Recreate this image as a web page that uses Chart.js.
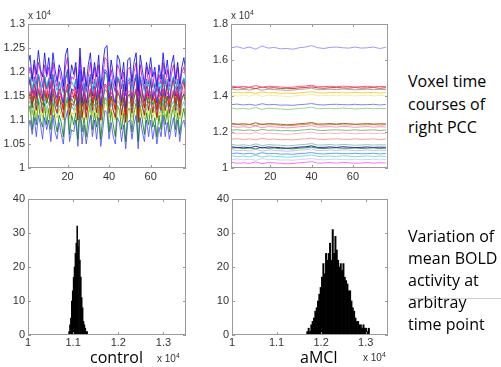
<!DOCTYPE html>
<html>
<head>
<meta charset="utf-8">
<script src="https://cdn.jsdelivr.net/npm/chart.js@4.4.1/dist/chart.umd.min.js"></script>
<style>
body { margin: 0; background: #fff; }
#page { position: relative; width: 501px; height: 367px; overflow: hidden; font-family: "Liberation Sans", Arial, sans-serif; }
canvas { position: absolute; }
.exp { position: absolute; font-size: 10px; line-height: 12px; color: #333; }
.exp span { font-size: 7px; position: relative; top: -4px; }
.note { position: absolute; left: 408px; font-family: "Open Sans", sans-serif; font-size: 16px; color: #000; white-space: nowrap; }
.group { position: absolute; font-family: "Open Sans", sans-serif; font-size: 16px; line-height: 20px; color: #000; }
</style>
</head>
<body>
<div id="page">
  <canvas id="ctlTime" width="200" height="190" style="left:0;top:0"></canvas>
  <canvas id="mciTime" width="200" height="190" style="left:200px;top:0"></canvas>
  <canvas id="ctlHist" width="200" height="180" style="left:0;top:180px"></canvas>
  <canvas id="mciHist" width="200" height="180" style="left:200px;top:180px"></canvas>

  <div class="exp" style="left:28px;top:10px">x 10<span>4</span></div>
  <div class="exp" style="left:231px;top:10px">x 10<span>4</span></div>
  <div class="exp" style="left:157px;top:353px">x 10<span>4</span></div>
  <div class="exp" style="left:363px;top:352px">x 10<span>4</span></div>

  <div class="group" style="left:90px;top:347px">control</div>
  <div class="group" style="left:300px;top:347px">aMCI</div>

  <div class="note" style="top:70px;line-height:23px">Voxel time<br>courses of<br>right PCC</div>
  <div style="position:absolute;left:408px;top:298px;width:93px;height:1px;background:#c8d0dc"></div>
  <div class="note" style="top:225px;line-height:22px">Variation of<br>mean BOLD<br>activity at<br>arbitray<br>time point</div>
</div>
<script>
// time axis (scan number) and ticks
const timeCtl = Array.from({length: 77}, (_, i) => i + 1);
const timeMci = [1,4,7,10,13,16,19,22,25,28,31,34,37,40,43,46,49,52,55,58,61,64,67,70,73,76];
const timeTicks = [20, 40, 60];
const ctlYTicks = [10000, 10500, 11000, 11500, 12000, 12500, 13000];
const mciYTicks = [10000, 12000, 14000, 16000, 18000];
const histXTicks = [10000, 11000, 12000, 13000];
const histYTicks = [0, 10, 20, 30, 40];

// control: voxel time courses (BOLD signal)
const ctl1 = [12150,12350,11850,12250,11950,12450,12050,11900,12400,11950,
  12300,11850,12400,12050,11800,12150,12000,11700,12350,12500,
  11750,12150,11950,12200,11650,12500,11800,12100,11700,12150,
  12400,11850,12200,11900,12350,11650,12150,12500,12550,11800,
  12250,11950,11700,12350,12250,11850,12200,11600,12250,12300,
  11800,12200,12400,11600,12350,12050,11750,12200,11950,12300,
  11900,12100,11700,12150,11850,12400,11950,12250,11800,12150,
  12350,11850,12200,11750,12100,12300,11950];
const ctl2 = [11900,12100,11800,12150,11750,12200,12000,11700,12150,11900,
  12100,11650,12200,11850,11700,12050,11800,11600,12100,12300,
  11650,11900,11850,12100,11550,12300,11600,12000,11600,11900,
  12200,11750,12100,11700,12150,11550,11900,12300,12250,11700,
  12050,11750,11600,12150,12050,11650,12000,11500,12050,12100,
  11700,12000,12200,11500,12150,11850,11650,12100,11750,12100,
  11700,12000,11600,11950,11750,12200,11750,12050,11700,11950,
  12150,11750,12100,11650,12000,12100,11850];
const ctl3 = [11800,11900,11650,11850,11700,11950,11750,11670,11930,11700,
  11880,11650,11930,11750,11620,11800,11720,11570,11900,11980,
  11600,11800,11700,11830,11550,11980,11620,11780,11570,11800,
  11930,11650,11830,11670,11900,11550,11800,11980,11950,11620,
  11850,11700,11570,11900,11850,11650,11830,11520,11850,11880,
  11620,11830,11930,11520,11900,11750,11600,11830,11700,11880,
  11670,11780,11570,11800,11650,11930,11700,11850,11620,11800,
  11900,11650,11830,11600,11780,11880,11700];
const ctl4 = [11650,11850,11550,11900,11500,11950,11750,11450,11900,11650,
  11850,11400,11950,11600,11450,11800,11550,11350,11850,12050,
  11400,11650,11600,11850,11300,12050,11350,11750,11350,11650,
  11950,11500,11850,11450,11900,11300,11650,12050,12000,11450,
  11800,11500,11350,11900,11800,11400,11750,11250,11800,11850,
  11450,11750,11950,11250,11900,11600,11400,11850,11500,11850,
  11450,11750,11350,11700,11500,11950,11500,11800,11450,11700,
  11900,11500,11850,11400,11750,11850,11600];
const ctl5 = [11650,11850,11350,11750,11450,11950,11550,11400,11900,11450,
  11800,11350,11900,11550,11300,11650,11500,11200,11850,12000,
  11250,11650,11450,11700,11150,12000,11300,11600,11200,11650,
  11900,11350,11700,11400,11850,11150,11650,12000,11950,11300,
  11750,11450,11200,11850,11750,11350,11700,11100,11750,11800,
  11300,11700,11900,11100,11850,11550,11250,11700,11450,11800,
  11400,11600,11200,11650,11350,11900,11450,11750,11300,11650,
  11850,11350,11700,11250,11600,11800,11450];
const ctl6 = [11500,11600,11450,11630,11420,11650,11550,11400,11630,11500,
  11600,11370,11650,11470,11400,11580,11450,11350,11600,11700,
  11370,11500,11470,11600,11320,11700,11350,11550,11350,11500,
  11650,11420,11600,11400,11630,11320,11500,11700,11680,11400,
  11580,11420,11350,11630,11580,11370,11550,11300,11580,11600,
  11400,11550,11650,11300,11630,11470,11370,11600,11420,11600,
  11400,11550,11350,11530,11420,11650,11420,11580,11400,11530,
  11630,11420,11600,11370,11550,11600,11470];
const ctl7 = [11450,11550,11300,11500,11350,11600,11400,11320,11580,11350,
  11530,11300,11580,11400,11270,11450,11370,11220,11550,11630,
  11250,11450,11350,11480,11200,11630,11270,11430,11220,11450,
  11580,11300,11480,11320,11550,11200,11450,11630,11600,11270,
  11500,11350,11220,11550,11500,11300,11480,11170,11500,11530,
  11270,11480,11580,11170,11550,11400,11250,11480,11350,11530,
  11320,11430,11220,11450,11300,11580,11350,11500,11270,11450,
  11550,11300,11480,11250,11430,11530,11350];
const ctl8 = [11350,11550,11250,11600,11200,11650,11450,11150,11600,11350,
  11550,11100,11650,11300,11150,11500,11250,11050,11550,11750,
  11100,11350,11300,11550,11000,11750,11050,11450,11050,11350,
  11650,11200,11550,11150,11600,11000,11350,11750,11700,11150,
  11500,11200,11050,11600,11500,11100,11450,10950,11500,11550,
  11150,11450,11650,10950,11600,11300,11100,11550,11200,11550,
  11150,11450,11050,11400,11200,11650,11200,11500,11150,11400,
  11600,11200,11550,11100,11450,11550,11300];
const ctl9 = [11300,11400,11150,11350,11200,11450,11250,11170,11430,11200,
  11380,11150,11430,11250,11120,11300,11220,11070,11400,11480,
  11100,11300,11200,11330,11050,11480,11120,11280,11070,11300,
  11430,11150,11330,11170,11400,11050,11300,11480,11450,11120,
  11350,11200,11070,11400,11350,11150,11330,11020,11350,11380,
  11120,11330,11430,11020,11400,11250,11100,11330,11200,11380,
  11170,11280,11070,11300,11150,11430,11200,11350,11120,11300,
  11400,11150,11330,11100,11280,11380,11200];
const ctl10 = [11150,11250,11100,11280,11070,11300,11200,11050,11280,11150,
  11250,11020,11300,11120,11050,11230,11100,11000,11250,11350,
  11020,11150,11120,11250,10970,11350,11000,11200,11000,11150,
  11300,11070,11250,11050,11280,10970,11150,11350,11330,11050,
  11230,11070,11000,11280,11230,11020,11200,10950,11230,11250,
  11050,11200,11300,10950,11280,11120,11020,11250,11070,11250,
  11050,11200,11000,11180,11070,11300,11070,11230,11050,11180,
  11280,11070,11250,11020,11200,11250,11120];
const ctl11 = [11100,11300,10800,11200,10900,11400,11000,10850,11350,10900,
  11250,10800,11350,11000,10750,11100,10950,10650,11300,11450,
  10700,11100,10900,11150,10600,11450,10750,11050,10650,11100,
  11350,10800,11150,10850,11300,10600,11100,11450,11400,10750,
  11200,10900,10650,11300,11200,10800,11150,10550,11200,11250,
  10750,11150,11350,10550,11300,11000,10700,11150,10900,11250,
  10850,11050,10650,11100,10800,11350,10900,11200,10750,11100,
  11300,10800,11150,10700,11050,11250,10900];
const ctl12 = [10800,11000,10700,11050,10650,11100,10900,10600,11050,10800,
  11000,10550,11100,10750,10600,10950,10700,10500,11000,11200,
  10550,10800,10750,11000,10450,11200,10500,10900,10500,10800,
  11100,10650,11000,10600,11050,10450,10800,11200,11150,10600,
  10950,10650,10500,11050,10950,10550,10900,10400,10950,11000,
  10600,10900,11100,10400,11050,10750,10550,11000,10650,11000,
  10600,10900,10500,10850,10650,11100,10650,10950,10600,10850,
  11050,10650,11000,10550,10900,11000,10750];

// aMCI: voxel time courses (BOLD signal), sampled at timeMci
const mci1 = [16680,16740,16640,16720,16600,16780,16660,16700,16620,16640,16600,16680,16720,16800,16680,16640,16700,16720,16680,16660,16720,16660,16680,16720,16640,16700];
const mci2 = [14560,14500,14530,14490,14580,14480,14540,14520,14500,14470,14490,14530,14550,14600,14510,14520,14540,14510,14550,14530,14500,14520,14540,14510,14530,14520];
const mci3 = [14450,14480,14430,14470,14410,14500,14440,14460,14420,14430,14410,14450,14470,14510,14450,14430,14460,14470,14450,14440,14470,14440,14450,14470,14430,14460];
const mci4 = [14400,14340,14370,14330,14420,14320,14380,14360,14340,14310,14330,14370,14390,14440,14350,14360,14380,14350,14390,14370,14340,14360,14380,14350,14370,14360];
const mci5 = [14180,14210,14160,14200,14140,14230,14170,14190,14150,14160,14140,14180,14200,14240,14180,14160,14190,14200,14180,14170,14200,14170,14180,14200,14160,14190];
const mci6 = [14060,14000,14030,13990,14080,13980,14040,14020,14000,13970,13990,14030,14050,14100,14010,14020,14040,14010,14050,14030,14000,14020,14040,14010,14030,14020];
const mci7 = [13520,13550,13500,13540,13480,13570,13510,13530,13490,13500,13480,13520,13540,13580,13520,13500,13530,13540,13520,13510,13540,13510,13520,13540,13500,13530];
const mci8 = [13340,13280,13310,13270,13360,13260,13320,13300,13280,13250,13270,13310,13330,13380,13290,13300,13320,13290,13330,13310,13280,13300,13320,13290,13310,13300];
const mci9 = [12490,12430,12460,12420,12510,12410,12470,12450,12430,12400,12420,12460,12480,12530,12440,12450,12470,12440,12480,12460,12430,12450,12470,12440,12460,12450];
const mci10 = [12400,12430,12380,12420,12360,12450,12390,12410,12370,12380,12360,12400,12420,12460,12400,12380,12410,12420,12400,12390,12420,12390,12400,12420,12380,12410];
const mci11 = [12320,12260,12290,12250,12340,12240,12300,12280,12260,12230,12250,12290,12310,12360,12270,12280,12300,12270,12310,12290,12260,12280,12300,12270,12290,12280];
const mci12 = [12100,12130,12080,12120,12060,12150,12090,12110,12070,12080,12060,12100,12120,12160,12100,12080,12110,12120,12100,12090,12120,12090,12100,12120,12080,12110];
const mci13 = [11960,11900,11930,11890,11980,11880,11940,11920,11900,11870,11890,11930,11950,12000,11910,11920,11940,11910,11950,11930,11900,11920,11940,11910,11930,11920];
const mci14 = [11600,11630,11580,11620,11560,11650,11590,11610,11570,11580,11560,11600,11620,11660,11600,11580,11610,11620,11600,11590,11620,11590,11600,11620,11580,11610];
const mci15 = [11320,11260,11290,11250,11340,11240,11300,11280,11260,11230,11250,11290,11310,11360,11270,11280,11300,11270,11310,11290,11260,11280,11300,11270,11290,11280];
const mci16 = [11190,11130,11160,11120,11210,11110,11170,11150,11130,11100,11120,11160,11180,11230,11140,11150,11170,11140,11180,11160,11130,11150,11170,11140,11160,11150];
const mci17 = [11100,11130,11080,11120,11060,11150,11090,11110,11070,11080,11060,11100,11120,11160,11100,11080,11110,11120,11100,11090,11120,11090,11100,11120,11080,11110];
const mci18 = [11020,10960,10990,10950,11040,10940,11000,10980,10960,10930,10950,10990,11010,11060,10970,10980,11000,10970,11010,10990,10960,10980,11000,10970,10990,10980];
const mci19 = [10800,10830,10780,10820,10760,10850,10790,10810,10770,10780,10760,10800,10820,10860,10800,10780,10810,10820,10800,10790,10820,10790,10800,10820,10780,10810];
const mci20 = [10690,10630,10660,10620,10710,10610,10670,10650,10630,10600,10620,10660,10680,10730,10640,10650,10670,10640,10680,10660,10630,10650,10670,10640,10660,10650];
const mci21 = [10470,10500,10450,10490,10430,10520,10460,10480,10440,10450,10430,10470,10490,10530,10470,10450,10480,10490,10470,10460,10490,10460,10470,10490,10450,10480];
const mci22 = [10320,10260,10290,10250,10340,10240,10300,10280,10260,10230,10250,10290,10310,10360,10270,10280,10300,10270,10310,10290,10260,10280,10300,10270,10290,10280];

// histograms of mean BOLD at one time point
const ctlBins = [10910,10930,10950,10970,10990,11010,11030,11050,11070,11090,11110,11130,11150,11170,11190,11210,11230,11250,11270,11290,11310];
const ctlCounts = [1,3,5,10,13,17,20,24,27,32,26,28,22,17,11,8,4,3,2,1,1];
const mciBins = [11690,11720,11750,11780,11810,11840,11870,11900,11930,11960,11990,12020,12050,12080,12110,12140,12170,12200,12230,12260,12290,12320,12350,12380,12410,12440,12470,12500,12530,12560,12590,12620,12650,12680,12710,12740,12770,12800,12830,12860,12890,12920,12950,12980,13010,13040,13070];
const mciCounts = [1,2,1,3,4,5,7,8,10,12,14,17,21,18,24,22,24,27,22,31,24,29,25,22,20,21,19,21,17,16,15,13,13,10,8,7,5,4,4,3,3,2,3,2,2,1,2];

const ctlLines = [ctl1, ctl2, ctl3, ctl4, ctl5, ctl6, ctl7, ctl8, ctl9, ctl10, ctl11, ctl12];
const ctlColors = ['rgba(0,0,255,0.8)', 'rgba(204,0,204,0.8)', 'rgba(0,191,191,0.8)', 'rgba(40,40,230,0.8)',
  'rgba(255,0,0,0.8)', 'rgba(230,60,230,0.8)', 'rgba(0,150,0,0.8)', 'rgba(200,0,0,0.8)',
  'rgba(60,190,190,0.8)', 'rgba(200,200,0,0.8)', 'rgba(0,128,0,0.8)', 'rgba(70,70,255,0.8)'];
const mciLines = [mci1, mci2, mci3, mci4, mci5, mci6, mci7, mci8, mci9, mci10, mci11,
  mci12, mci13, mci14, mci15, mci16, mci17, mci18, mci19, mci20, mci21, mci22];
const mciColors = ['#9a9aff', '#ff5588', '#d04040', '#a8a890', '#f0d050', '#f8f090', '#8080ff', '#90d890',
  '#a06a30', '#f08850', '#ff90c8', '#70c870', '#ffb0d0', '#ff9c8c', '#90c8b0', '#2a2aa8',
  '#3a9a3a', '#c0c0ff', '#7098ff', '#70e0e0', '#d0d0ff', '#ff70ff'];

const tickFont = {family: 'Liberation Sans', size: 11};
const fmt = v => +(v / 10000).toFixed(2);

// matlab style box with inward ticks
const boxPlugin = {
  id: 'box',
  afterDraw(chart) {
    const ctx = chart.ctx, a = chart.chartArea, sx = chart.scales.x, sy = chart.scales.y;
    ctx.save();
    ctx.strokeStyle = '#9a9a9a';
    ctx.lineWidth = 1;
    ctx.strokeRect(a.left + 0.5, a.top + 0.5, a.right - a.left - 1, a.bottom - a.top - 1);
    ctx.beginPath();
    sx.ticks.forEach(t => {
      let p = Math.round(sx.getPixelForValue(t.value)) + 0.5;
      ctx.moveTo(p, a.bottom); ctx.lineTo(p, a.bottom - 3);
      ctx.moveTo(p, a.top); ctx.lineTo(p, a.top + 3);
    });
    sy.ticks.forEach(t => {
      let p = Math.round(sy.getPixelForValue(t.value)) + 0.5;
      ctx.moveTo(a.left, p); ctx.lineTo(a.left + 3, p);
      ctx.moveTo(a.right, p); ctx.lineTo(a.right - 3, p);
    });
    ctx.stroke();
    ctx.restore();
  }
};

function axis(min, max, tickValues, cb, pad, fit) {
  return {
    type: 'linear', min: min, max: max, offset: false,
    grid: {display: false, drawTicks: false},
    border: {display: false},
    afterBuildTicks: s => { s.ticks = tickValues.map(v => ({value: v})); },
    ticks: {font: tickFont, color: '#333', padding: pad, autoSkip: false, maxRotation: 0, callback: cb},
    afterFit: fit
  };
}

function timeChart(id, times, lines, colors, yMax, yTicks, yWidth, rightPad) {
  new Chart(document.getElementById(id), {
    type: 'line',
    data: {
      datasets: lines.map((vals, i) => ({
        data: vals.map((v, j) => ({x: times[j], y: v})),
        borderColor: colors[i],
        borderWidth: 1,
        pointRadius: 0,
        tension: 0
      }))
    },
    options: {
      responsive: false,
      animation: false,
      layout: {padding: {top: 24, right: rightPad, left: 0, bottom: 0}},
      plugins: {legend: {display: false}, tooltip: {enabled: false}},
      scales: {
        x: axis(1, 77, timeTicks, v => v, 2, s => { s.height = 22; }),
        y: axis(10000, yMax, yTicks, fmt, 3, s => { s.width = yWidth; })
      }
    },
    plugins: [boxPlugin]
  });
}

function histChart(id, bins, counts, yWidth, rightPad) {
  new Chart(document.getElementById(id), {
    type: 'bar',
    data: {
      datasets: [{
        data: bins.map((b, i) => ({x: b, y: counts[i]})),
        backgroundColor: '#000',
        borderWidth: 0,
        barPercentage: 1,
        categoryPercentage: 1
      }]
    },
    options: {
      responsive: false,
      animation: false,
      layout: {padding: {top: 19, right: rightPad, left: 0, bottom: 0}},
      plugins: {legend: {display: false}, tooltip: {enabled: false}},
      scales: {
        x: axis(10000, 13500, histXTicks, fmt, 1, s => { s.height = 25; }),
        y: axis(0, 40, histYTicks, v => v, 3, s => { s.width = yWidth; })
      }
    },
    plugins: [boxPlugin]
  });
}

timeChart('ctlTime', timeCtl, ctlLines, ctlColors, 13000, ctlYTicks, 28, 14);
timeChart('mciTime', timeMci, mciLines, mciColors, 18000, mciYTicks, 31, 12);
histChart('ctlHist', ctlBins, ctlCounts, 28, 14);
histChart('mciHist', mciBins, mciCounts, 32, 12);
</script>
</body>
</html>
